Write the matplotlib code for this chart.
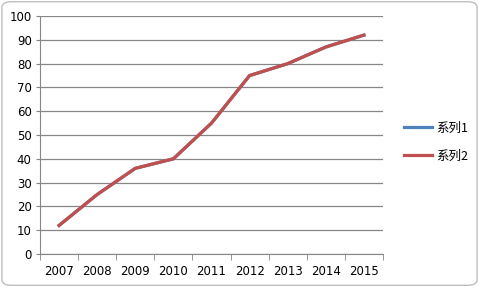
import matplotlib.pyplot as plt
from matplotlib.patches import FancyBboxPatch
import numpy as np

years = ['2007', '2008', '2009', '2010', '2011', '2012', '2013', '2014', '2015']
series1 = [12, 25, 36, 40, 55, 75, 80, 87, 92]
series2 = [12, 25, 36, 40, 55, 75, 80, 87, 92]

plt.rcParams['font.family'] = ['DejaVu Sans', 'Noto Sans CJK SC']

fig = plt.figure(figsize=(4.79, 2.87), dpi=100)
fig.patches.append(FancyBboxPatch((0.004, 0.006), 0.992, 0.988,
                                  boxstyle='round,pad=0,rounding_size=0.02',
                                  transform=fig.transFigure, fill=False,
                                  edgecolor='#bfbfbf', linewidth=1))
ax = fig.add_axes([0.0835, 0.115, 0.716, 0.829])

x = np.arange(len(years))
ax.plot(x, series1, color='#4F81BD', linewidth=2.3, label='系列1')
ax.plot(x, series2, color='#C0504D', linewidth=2.3, label='系列2')

ax.set_xlim(-0.5, len(years) - 0.5)
ax.set_ylim(0, 100)
ax.set_yticks(range(0, 101, 10))
ax.yaxis.grid(True, color='#868686', linewidth=0.9)
ax.set_axisbelow(True)

ax.set_xticks(x)
ax.set_xticklabels(years)
ax.set_xticks(np.arange(-0.5, len(years)), minor=True)
ax.tick_params(axis='x', which='major', length=0, pad=8, labelsize=8.5)
ax.tick_params(axis='x', which='minor', length=4, color='#868686', direction='out')
ax.tick_params(axis='y', length=3, color='#868686', labelsize=8.5, pad=3)

for s in ['top', 'right']:
    ax.spines[s].set_visible(False)
ax.spines['left'].set_color('#868686')
ax.spines['bottom'].set_color('#868686')

leg = ax.legend(loc='center left', bbox_to_anchor=(1.03, 0.47), frameon=False,
                handlelength=2.2, handletextpad=0.3, labelspacing=1.2,
                prop={'family': ['Noto Sans CJK SC', 'DejaVu Sans'], 'size': 9})

fig.savefig('out.png', dpi=100)
